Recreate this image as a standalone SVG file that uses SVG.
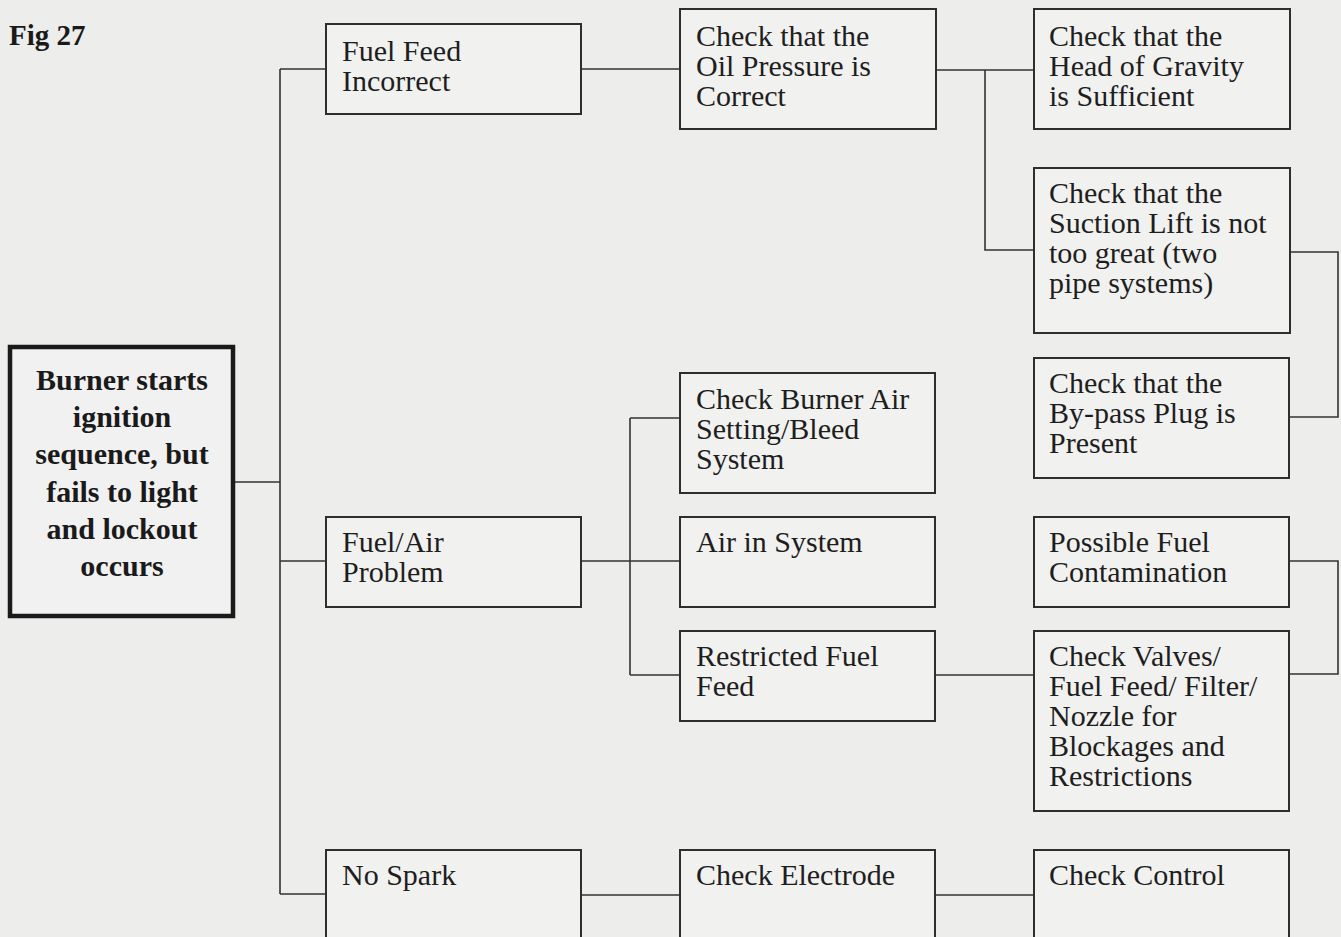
<svg xmlns="http://www.w3.org/2000/svg" width="1341" height="937" viewBox="0 0 1341 937">
<style>
.bg{fill:#ededec}
.box{fill:#f1f1f0;stroke:#2e2e2e;stroke-width:2}
.root{fill:#f2f1f1;stroke:#1a1a1a;stroke-width:4.5}
.t{font-family:"Liberation Serif","Times New Roman",serif;font-size:30px;fill:#1e1e1e}
.rt{font-family:"Liberation Serif","Times New Roman",serif;font-size:30px;font-weight:bold;fill:#1a1a1a;text-anchor:middle}
.fig{font-family:"Liberation Serif","Times New Roman",serif;font-size:29px;font-weight:bold;fill:#1a1a1a}
.c{fill:none;stroke:#333;stroke-width:1.6}
</style>
<rect class="bg" x="0" y="0" width="1341" height="937"/>
<text class="fig" x="9" y="45">Fig 27</text>
<g id="connectors">
<path class="c" d="M234,482 H280 M280,69 V894 M280,69 H326 M280,561 H326 M280,894 H326"/>
<path class="c" d="M581,69 H680 M936,70 H1034 M985,70 V250 H1034"/>
<path class="c" d="M1290,252 H1338 V417 H1289"/>
<path class="c" d="M581,561 H680 M630,418 V675 M630,418 H680 M630,675 H680"/>
<path class="c" d="M935,675 H1034"/>
<path class="c" d="M1289,561 H1338 V674 H1289"/>
<path class="c" d="M581,895 H680 M935,895 H1034"/>
</g>
<g id="root">
<rect class="root" x="10" y="347" width="223" height="269"/>
<text class="rt" x="122" y="390">Burner starts</text>
<text class="rt" x="122" y="427">ignition</text>
<text class="rt" x="122" y="464">sequence, but</text>
<text class="rt" x="122" y="502">fails to light</text>
<text class="rt" x="122" y="539">and lockout</text>
<text class="rt" x="122" y="576">occurs</text>
</g>
<g id="fuel-feed-incorrect">
<rect class="box" x="326" y="24" width="255" height="90"/>
<text class="t" x="342" y="61">Fuel Feed</text>
<text class="t" x="342" y="91">Incorrect</text>
</g>
<g id="fuel-air-problem">
<rect class="box" x="326" y="517" width="255" height="90"/>
<text class="t" x="342" y="552">Fuel/Air</text>
<text class="t" x="342" y="582">Problem</text>
</g>
<g id="no-spark">
<rect class="box" x="326" y="850" width="255" height="100"/>
<text class="t" x="342" y="885">No Spark</text>
</g>
<g id="oil-pressure">
<rect class="box" x="680" y="9" width="256" height="120"/>
<text class="t" x="696" y="46">Check that the</text>
<text class="t" x="696" y="76">Oil Pressure is</text>
<text class="t" x="696" y="106">Correct</text>
</g>
<g id="burner-air">
<rect class="box" x="680" y="373" width="255" height="120"/>
<text class="t" x="696" y="409">Check Burner Air</text>
<text class="t" x="696" y="439">Setting/Bleed</text>
<text class="t" x="696" y="469">System</text>
</g>
<g id="air-in-system">
<rect class="box" x="680" y="517" width="255" height="90"/>
<text class="t" x="696" y="552">Air in System</text>
</g>
<g id="restricted-fuel-feed">
<rect class="box" x="680" y="631" width="255" height="90"/>
<text class="t" x="696" y="666">Restricted Fuel</text>
<text class="t" x="696" y="696">Feed</text>
</g>
<g id="check-electrode">
<rect class="box" x="680" y="850" width="255" height="100"/>
<text class="t" x="696" y="885">Check Electrode</text>
</g>
<g id="head-of-gravity">
<rect class="box" x="1034" y="9" width="256" height="120"/>
<text class="t" x="1049" y="46">Check that the</text>
<text class="t" x="1049" y="76">Head of Gravity</text>
<text class="t" x="1049" y="106">is Sufficient</text>
</g>
<g id="suction-lift">
<rect class="box" x="1034" y="168" width="256" height="165"/>
<text class="t" x="1049" y="203">Check that the</text>
<text class="t" x="1049" y="233">Suction Lift is not</text>
<text class="t" x="1049" y="263">too great (two</text>
<text class="t" x="1049" y="293">pipe systems)</text>
</g>
<g id="by-pass-plug">
<rect class="box" x="1034" y="358" width="255" height="120"/>
<text class="t" x="1049" y="393">Check that the</text>
<text class="t" x="1049" y="423">By-pass Plug is</text>
<text class="t" x="1049" y="453">Present</text>
</g>
<g id="fuel-contamination">
<rect class="box" x="1034" y="517" width="255" height="90"/>
<text class="t" x="1049" y="552">Possible Fuel</text>
<text class="t" x="1049" y="582">Contamination</text>
</g>
<g id="check-valves">
<rect class="box" x="1034" y="631" width="255" height="180"/>
<text class="t" x="1049" y="666">Check Valves/</text>
<text class="t" x="1049" y="696">Fuel Feed/ Filter/</text>
<text class="t" x="1049" y="726">Nozzle for</text>
<text class="t" x="1049" y="756">Blockages and</text>
<text class="t" x="1049" y="786">Restrictions</text>
</g>
<g id="check-control">
<rect class="box" x="1034" y="850" width="255" height="100"/>
<text class="t" x="1049" y="885">Check Control</text>
</g>
</svg>
